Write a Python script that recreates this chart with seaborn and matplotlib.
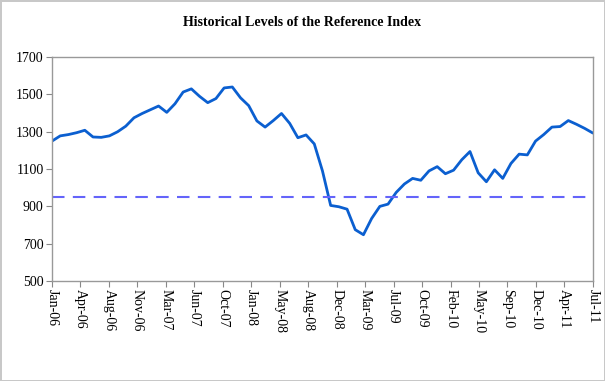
import matplotlib
matplotlib.use("Agg")
import matplotlib.pyplot as plt
import numpy as np
import pandas as pd
import seaborn as sns

# monthly index levels, Jan-06 .. Jul-11
months = list(range(67))
levels = [1250, 1278, 1285, 1295, 1308, 1272, 1270, 1278, 1300, 1330,
          1375, 1398, 1418, 1438, 1404, 1450, 1513, 1530, 1490, 1456,
          1478, 1535, 1540, 1482, 1440, 1358, 1325, 1360, 1398, 1345,
          1268, 1283, 1235, 1090, 905, 898, 885, 775, 748, 835,
          900, 912, 975, 1020, 1050, 1040, 1090, 1113, 1075, 1094,
          1150, 1194, 1080, 1032, 1096, 1050, 1130, 1180, 1176, 1250,
          1285, 1325, 1328, 1360, 1340, 1318, 1293]
reference_level = 950

tick_labels = ['Jan-06', 'Apr-06', 'Aug-06', 'Nov-06', 'Mar-07', 'Jun-07', 'Oct-07',
               'Jan-08', 'May-08', 'Aug-08', 'Dec-08', 'Mar-09', 'Jul-09', 'Oct-09',
               'Feb-10', 'May-10', 'Sep-10', 'Dec-10', 'Apr-11', 'Jul-11']
y_ticks = [500, 700, 900, 1100, 1300, 1500, 1700]

df = pd.DataFrame({'month': months, 'level': levels})

sns.set_style("white")
plt.rcParams['font.family'] = ['Liberation Serif', 'DejaVu Serif']
plt.rcParams['text.color'] = 'black'
plt.rcParams['xtick.color'] = 'black'
plt.rcParams['ytick.color'] = 'black'

fig = plt.figure(figsize=(6.05, 3.81), dpi=100, edgecolor='#C8C8C8', linewidth=2)
ax = fig.add_axes([0.086, 0.2625, 0.894, 0.5875])

sns.lineplot(data=df, x='month', y='level', ax=ax, color='#0B5FD0', linewidth=2)
ax.axhline(reference_level, color='#6464FA', linewidth=1.5, linestyle=(0, (6, 4)))

ax.set_xlim(0, 66)
ax.set_ylim(500, 1700)
ax.set_yticks(y_ticks)
ax.set_xticks(np.linspace(0, 66, len(tick_labels)))
ax.set_xticklabels(tick_labels, rotation=270)
ax.tick_params(axis='both', labelsize=10, length=4, color='#888888', labelcolor='black',
               direction='out', bottom=True, left=True, pad=2)
ax.set_xlabel('')
ax.set_ylabel('')
for s in ax.spines.values():
    s.set_color('#999999')
    s.set_linewidth(1)

fig.text(0.5, 0.94, 'Historical Levels of the Reference Index', ha='center', va='center',
         fontsize=10, fontweight='bold', color='black')

fig.savefig('out.png', dpi=100)
